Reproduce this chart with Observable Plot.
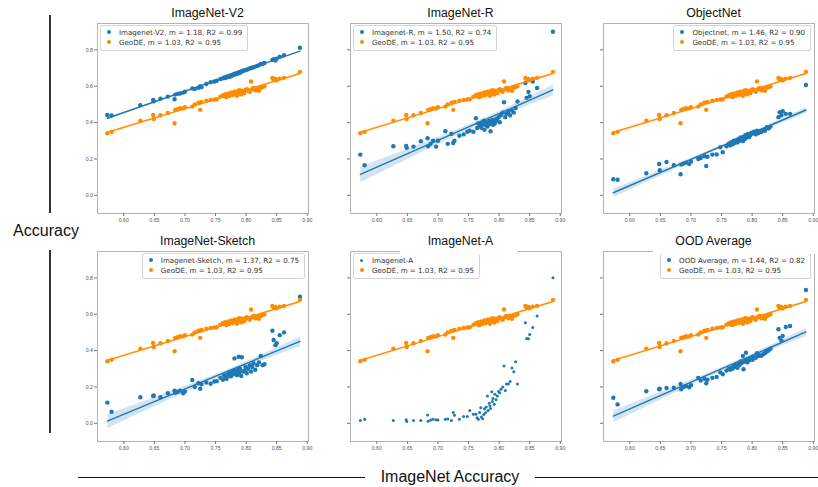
<!DOCTYPE html>
<html><head><meta charset="utf-8">
<script src="https://cdn.jsdelivr.net/npm/d3@7"></script>
<script src="https://cdn.jsdelivr.net/npm/@observablehq/plot@0.6"></script>
<style>
body{margin:0;background:#fff;}
#root{position:relative;width:818px;height:487px;overflow:hidden;font-family:"Liberation Sans",Arial,sans-serif;background:#fff;}
.plot{position:absolute;}
.title{position:absolute;font-size:12.3px;color:#111;transform:translate(-50%,-50%);white-space:nowrap;line-height:1;}
.mask{position:absolute;background:#fff;}
.legend{position:absolute;background:rgba(255,255,255,0.9);border:1px solid #d4d4d4;border-radius:2px;font-family:"DejaVu Sans",sans-serif;font-size:7.1px;color:#333;padding:2px 5px 2px 6px;line-height:10px;white-space:nowrap;}
.legend .dot{display:inline-block;width:4px;height:4px;border-radius:50%;margin-right:8px;vertical-align:middle;position:relative;top:-1px;}
.vline{position:absolute;background:#333;width:1.5px;}
.hline{position:absolute;background:#111;height:1.3px;}
.big{position:absolute;font-size:16px;color:#111;transform:translate(-50%,-50%);white-space:nowrap;line-height:1;}
</style>
</head><body>
<div id="root"></div>
<script>
const BLUE = "#1f78b6", ORANGE = "#ff8c00";
const xTicks = [0.60, 0.65, 0.70, 0.75, 0.80, 0.85, 0.90];
const yTicks = [0.0, 0.2, 0.4, 0.6, 0.8];

// ImageNet accuracy of each model (shared x)
const imagenetAcc = [0.573,0.580,0.627,0.648,0.649,0.660,0.672,0.683,0.684,0.688,0.692,0.697,0.700,0.712,0.716,0.722,0.725,0.727,0.735,0.742,0.748,0.752,0.758,0.762,0.764,0.766,0.768,0.770,0.771,0.773,0.775,0.776,0.778,0.779,0.781,0.782,0.784,0.785,0.786,0.788,0.789,0.790,0.792,0.793,0.795,0.797,0.799,0.801,0.803,0.806,0.808,0.810,0.812,0.815,0.818,0.821,0.824,0.827,0.830,0.843,0.845,0.848,0.850,0.855,0.862,0.888];
const geodeAcc = [0.341,0.349,0.411,0.442,0.420,0.440,0.453,0.396,0.470,0.473,0.479,0.478,0.484,0.488,0.500,0.510,0.470,0.514,0.521,0.524,0.527,0.528,0.543,0.550,0.545,0.556,0.540,0.552,0.560,0.548,0.557,0.566,0.552,0.560,0.570,0.558,0.563,0.548,0.572,0.560,0.578,0.566,0.555,0.575,0.570,0.562,0.580,0.583,0.575,0.570,0.626,0.585,0.590,0.578,0.588,0.575,0.592,0.596,0.600,0.645,0.635,0.640,0.632,0.642,0.646,0.679];
const v2Acc = [0.442,0.439,0.495,0.525,0.517,0.532,0.543,0.528,0.554,0.558,0.560,0.565,0.570,0.588,0.585,0.592,0.600,0.595,0.612,0.622,0.626,0.630,0.640,0.643,0.648,0.645,0.652,0.650,0.655,0.652,0.660,0.656,0.662,0.665,0.668,0.664,0.670,0.672,0.668,0.675,0.678,0.674,0.680,0.682,0.685,0.686,0.690,0.690,0.694,0.698,0.700,0.702,0.705,0.708,0.712,0.716,0.722,0.724,0.728,0.745,0.748,0.742,0.752,0.762,0.770,0.812];
const rAcc = [0.224,0.165,0.270,0.272,0.261,0.268,0.297,0.314,0.270,0.283,0.300,0.268,0.300,0.352,0.283,0.338,0.288,0.300,0.328,0.335,0.350,0.355,0.350,0.424,0.370,0.395,0.380,0.400,0.372,0.390,0.410,0.360,0.385,0.402,0.378,0.395,0.410,0.392,0.352,0.400,0.415,0.388,0.405,0.395,0.420,0.410,0.430,0.402,0.440,0.455,0.512,0.430,0.448,0.460,0.440,0.466,0.455,0.480,0.516,0.618,0.536,0.569,0.545,0.626,0.590,0.900];
const objectnetAcc = [0.088,0.086,0.121,0.172,0.138,0.183,0.165,0.116,0.169,0.175,0.180,0.172,0.185,0.200,0.205,0.215,0.161,0.212,0.224,0.225,0.264,0.237,0.270,0.285,0.275,0.292,0.280,0.300,0.288,0.295,0.305,0.290,0.310,0.300,0.318,0.305,0.315,0.298,0.322,0.310,0.330,0.315,0.325,0.338,0.320,0.332,0.345,0.340,0.350,0.335,0.356,0.342,0.352,0.348,0.360,0.355,0.374,0.368,0.378,0.430,0.457,0.440,0.462,0.448,0.448,0.607];
const sketchAcc = [0.114,0.064,0.143,0.150,0.153,0.143,0.165,0.180,0.168,0.172,0.180,0.165,0.175,0.238,0.200,0.220,0.190,0.215,0.224,0.218,0.230,0.232,0.250,0.240,0.265,0.255,0.245,0.270,0.262,0.280,0.258,0.275,0.268,0.290,0.357,0.272,0.285,0.265,0.295,0.366,0.278,0.300,0.260,0.363,0.285,0.290,0.310,0.275,0.300,0.320,0.285,0.310,0.330,0.295,0.320,0.335,0.370,0.320,0.325,0.509,0.458,0.430,0.440,0.485,0.500,0.696];
const aAcc = [0.015,0.022,0.015,0.020,0.010,0.016,0.016,0.046,0.012,0.018,0.022,0.020,0.018,0.022,0.024,0.015,0.059,0.044,0.022,0.038,0.038,0.070,0.050,0.050,0.030,0.022,0.060,0.086,0.035,0.025,0.048,0.080,0.060,0.090,0.150,0.070,0.110,0.095,0.082,0.174,0.120,0.137,0.105,0.160,0.130,0.150,0.175,0.168,0.187,0.200,0.315,0.180,0.216,0.216,0.230,0.304,0.284,0.339,0.216,0.553,0.467,0.465,0.489,0.527,0.590,0.800];
const oodAcc = [0.141,0.104,0.176,0.187,0.190,0.194,0.196,0.216,0.187,0.200,0.205,0.198,0.210,0.250,0.235,0.245,0.220,0.240,0.250,0.255,0.280,0.270,0.290,0.300,0.295,0.305,0.300,0.315,0.310,0.320,0.318,0.305,0.325,0.320,0.340,0.330,0.335,0.370,0.297,0.340,0.345,0.388,0.335,0.350,0.345,0.355,0.360,0.350,0.365,0.360,0.385,0.370,0.375,0.372,0.380,0.385,0.395,0.400,0.410,0.517,0.470,0.455,0.480,0.530,0.535,0.733];

const panelTitles = ["ImageNet-V2","ImageNet-R","ObjectNet","ImageNet-Sketch","ImageNet-A","OOD Average"];
const seriesLabels = ["Imagenet-V2, m = 1.18, R2 = 0.99","Imagenet-R, m = 1.50, R2 = 0.74","Objectnet, m = 1.46, R2 = 0.90","Imagenet-Sketch, m = 1.37, R2 = 0.75","Imagenet-A","OOD Average, m = 1.44, R2 = 0.82"];
const geodeLabel = "GeoDE, m = 1.03, R2 = 0.95";
const seriesValues = [v2Acc, rAcc, objectnetAcc, sketchAcc, aAcc, oodAcc];
const hasFit = [true, true, true, true, false, true];
const legendRight = [false, false, true, true, false, true];

const root = document.getElementById("root");
const frameLefts = [97, 350, 603];
const frameTops = [23, 251];
const FW = 211, FH = 190;
const ML = 24, MR = 4, MT = 3, MB = 12;

function add(html){ root.insertAdjacentHTML("beforeend", html); }

panelTitles.forEach((title, k) => {
  const col = k % 3, row = Math.floor(k / 3);
  const fl = frameLefts[col], ft = frameTops[row];
  const series = imagenetAcc.map((x, i) => ({x, y: seriesValues[k][i]}));
  const geo = imagenetAcc.map((x, i) => ({x, y: geodeAcc[i]}));
  const marks = [
    Plot.frame({stroke: "#b3b3b3"}),
    Plot.axisY({ticks: yTicks, tickSize: 3, tickPadding: 1.5, stroke: "#777", fill: "#555",
      tickFormat: col === 0 ? (d => d.toFixed(1)) : (() => ""), label: null}),
    Plot.axisX({ticks: xTicks, tickSize: 3, tickPadding: 1.5, stroke: "#777", fill: "#555",
      tickFormat: d => d.toFixed(2), label: null})
  ];
  if (hasFit[k]) marks.push(Plot.linearRegressionY(series, {x: "x", y: "y", stroke: BLUE, fill: BLUE, fillOpacity: 0.2, strokeWidth: 1.4}));
  marks.push(Plot.dot(series, {x: "x", y: "y", r: hasFit[k] ? 2.2 : 1.5, fill: BLUE}));
  marks.push(Plot.linearRegressionY(geo, {x: "x", y: "y", stroke: ORANGE, fill: ORANGE, fillOpacity: 0.15, strokeWidth: 1.4}));
  marks.push(Plot.dot(geo, {x: "x", y: "y", r: 2.2, fill: ORANGE}));

  const svg = Plot.plot({
    width: FW + ML + MR, height: FH + MT + MB,
    marginLeft: ML, marginRight: MR, marginTop: MT, marginBottom: MB,
    x: {domain: [0.557, 0.902]},
    y: {domain: [-0.1, 0.945]},
    style: {fontFamily: "'Liberation Sans Narrow','Liberation Sans',sans-serif", fontSize: "5.2px", background: "transparent", overflow: "visible"},
    marks
  });
  const wrap = document.createElement("div");
  wrap.className = "plot";
  wrap.style.left = (fl - ML) + "px";
  wrap.style.top = (ft - MT) + "px";
  wrap.appendChild(svg);
  root.appendChild(wrap);

  // legend
  const pos = legendRight[k] ? `right:${818 - (fl + FW) + 3}px;` : `left:${fl + 3}px;`;
  const blueDot = `<span class="dot" style="background:${BLUE};${hasFit[k] ? "" : "width:3px;height:3px;margin-right:9px;"}"></span>`;
  add(`<div class="legend" style="${pos}top:${ft + 2}px;"><div>${blueDot}${seriesLabels[k]}</div><div><span class="dot" style="background:${ORANGE}"></span>${geodeLabel}</div></div>`);
  // title
  add(`<div class="title" style="left:${fl + FW / 2 + 5}px;top:${ft - 10}px;">${title}</div>`);
});

// white gaps in the frame under some titles
add(`<div class="mask" style="left:400px;top:248px;width:118px;height:6px;"></div>`);
add(`<div class="mask" style="left:653px;top:248px;width:162px;height:6px;"></div>`);

// outer labels
add(`<div class="vline" style="left:49px;top:15px;height:198px;"></div>`);
add(`<div class="vline" style="left:49px;top:250px;height:183px;"></div>`);
add(`<div class="big" style="left:46px;top:231px;">Accuracy</div>`);
add(`<div class="hline" style="left:78px;top:477px;width:287px;"></div>`);
add(`<div class="hline" style="left:535px;top:477px;width:283px;"></div>`);
add(`<div class="big" style="left:450px;top:477px;">ImageNet Accuracy</div>`);
</script>
</body></html>
